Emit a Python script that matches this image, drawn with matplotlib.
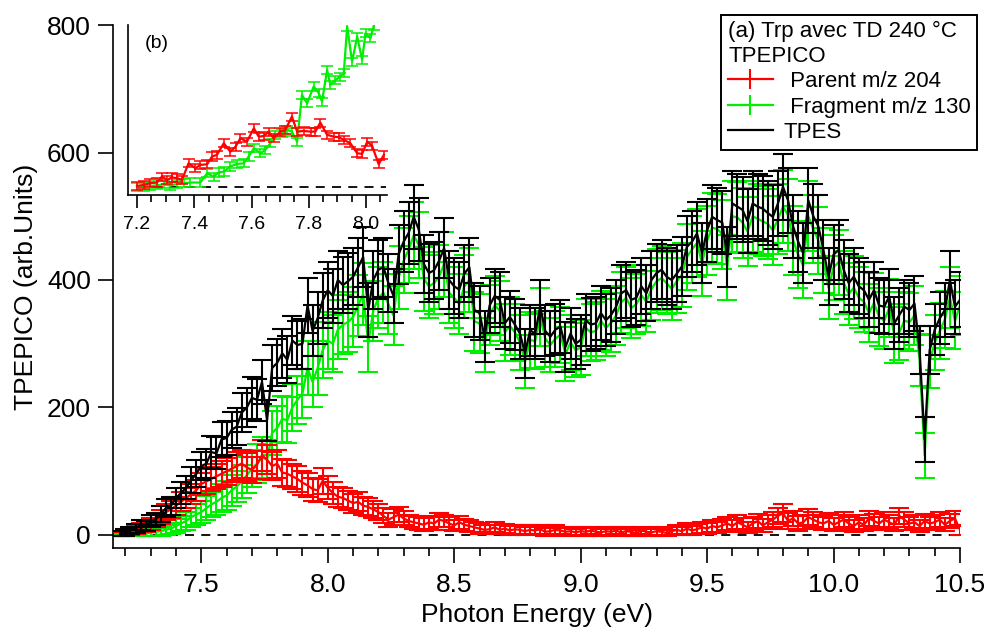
import numpy as np
import matplotlib
matplotlib.use("Agg")
import matplotlib.pyplot as plt
from matplotlib.lines import Line2D

plt.rcParams['font.family'] = ['Liberation Sans', 'DejaVu Sans']

# photon energy grid (eV), 0.02 eV steps
energy = np.round(np.arange(7.18, 10.505, 0.02), 2)

tpes = [2, 4, 7, 10, 16, 14, 22, 25, 33, 42,
        46, 58, 66, 74, 86, 96, 108, 112, 130, 128,
        150, 152, 165, 170, 192, 200, 215, 212, 240, 180,
        262, 270, 285, 275, 305, 298, 300, 360, 320, 340,
        368, 384, 375, 400, 392, 398, 405, 420, 436, 353,
        400, 416, 420, 395, 375, 440, 460, 474, 499, 479,
        425, 411, 415, 430, 450, 400, 390, 385, 410, 420,
        353, 348, 311, 360, 375, 369, 332, 342, 330, 316,
        285, 321, 316, 358, 320, 311, 322, 327, 295, 316,
        300, 306, 337, 330, 332, 348, 337, 345, 358, 379,
        384, 369, 372, 390, 379, 400, 411, 416, 405, 400,
        410, 421, 452, 460, 473, 442, 478, 499, 494, 490,
        436, 520, 515, 510, 492, 520, 515, 512, 505, 499,
        520, 546, 525, 484, 460, 442, 525, 500, 484, 447,
        405, 440, 447, 416, 395, 405, 390, 384, 369, 384,
        360, 358, 374, 332, 345, 358, 353, 363, 290, 150,
        290, 322, 340, 353, 400, 358, 369]
tpes_err = [4, 5, 6, 7, 8, 8, 10, 10, 12, 14,
            14, 16, 17, 18, 20, 21, 22, 23, 25, 25,
            27, 27, 28, 29, 31, 31, 33, 33, 35, 32,
            36, 37, 38, 37, 39, 38, 39, 43, 40, 41,
            43, 44, 43, 45, 44, 44, 45, 46, 47, 42,
            45, 46, 46, 45, 43, 47, 48, 49, 50, 49,
            46, 45, 45, 46, 47, 45, 44, 44, 45, 46,
            42, 42, 40, 43, 43, 43, 41, 41, 40, 40,
            38, 40, 40, 42, 40, 40, 40, 41, 39, 40,
            39, 39, 41, 41, 41, 42, 41, 42, 42, 44,
            44, 43, 43, 44, 44, 45, 45, 46, 45, 45,
            45, 46, 48, 48, 49, 47, 49, 50, 50, 50,
            47, 51, 51, 51, 50, 51, 51, 51, 50, 50,
            51, 52, 51, 49, 48, 47, 51, 50, 49, 47,
            45, 47, 47, 46, 45, 45, 44, 44, 43, 44,
            43, 42, 43, 41, 42, 42, 42, 43, 38, 35,
            38, 40, 41, 42, 45, 42, 43]

parent = [1, 3, 5, 8, 11, 13, 17, 22, 28, 36,
          40, 46, 52, 58, 64, 70, 80, 84, 88, 92,
          96, 100, 104, 108, 112, 106, 102, 110, 125, 118,
          108, 112, 98, 96, 92, 88, 82, 78, 72, 70,
          85, 74, 66, 60, 58, 54, 50, 52, 46, 44,
          40, 36, 30, 24, 28, 32, 26, 22, 20, 18,
          16, 20, 18, 24, 22, 18, 15, 20, 16, 14,
          12, 10, 8, 9, 12, 8, 10, 7, 9, 8,
          6, 8, 7, 9, 5, 6, 8, 7, 5, 6,
          4, 6, 5, 7, 5, 4, 6, 5, 7, 4,
          6, 5, 3, 7, 5, 4, 6, 5, 3, 6,
          8, 6, 10, 7, 9, 12, 10, 14, 12, 15,
          18, 14, 20, 16, 12, 18, 22, 15, 20, 24,
          30, 34, 22, 26, 18, 20, 28, 24, 20, 18,
          22, 16, 20, 24, 18, 14, 20, 16, 26, 22,
          18, 24, 20, 16, 30, 24, 18, 20, 14, 22,
          18, 20, 24, 16, 22, 26, 8]
parent_err = [3, 4, 5, 6, 7, 8, 9, 10, 11, 12,
              13, 14, 15, 16, 16, 17, 18, 19, 19, 20,
              20, 21, 21, 22, 22, 22, 21, 22, 24, 23,
              22, 22, 21, 21, 20, 20, 19, 19, 18, 18,
              20, 18, 17, 16, 16, 15, 15, 15, 14, 14,
              13, 13, 12, 11, 12, 12, 11, 10, 10, 10,
              10, 10, 10, 11, 10, 10, 9, 10, 9, 9,
              8, 8, 7, 7, 8, 7, 7, 7, 7, 7,
              6, 7, 6, 7, 6, 6, 7, 6, 6, 6,
              5, 6, 6, 6, 6, 5, 6, 6, 6, 5,
              6, 6, 5, 6, 6, 5, 6, 6, 5, 6,
              7, 6, 8, 7, 8, 9, 8, 9, 9, 10,
              10, 9, 11, 10, 9, 10, 11, 10, 11, 12,
              13, 14, 12, 12, 11, 11, 13, 12, 11, 10,
              12, 10, 11, 12, 10, 9, 11, 10, 12, 11,
              10, 12, 11, 10, 13, 12, 10, 11, 9, 11,
              10, 11, 12, 10, 11, 12, 8]

fragment = [0, 1, 1, 2, 3, 2, 4, 5, 6, 8,
            10, 14, 18, 22, 28, 32, 36, 42, 48, 52,
            58, 62, 70, 76, 84, 94, 104, 112, 122, 118,
            160, 168, 182, 180, 200, 212, 222, 262, 240, 262,
            290, 305, 300, 322, 330, 334, 342, 360, 378, 300,
            352, 372, 380, 362, 344, 404, 430, 448, 470, 455,
            402, 390, 395, 405, 425, 380, 372, 362, 390, 400,
            335, 332, 298, 345, 360, 352, 318, 328, 318, 302,
            272, 306, 304, 342, 308, 298, 308, 314, 284, 302,
            290, 294, 325, 318, 320, 336, 325, 333, 344, 365,
            372, 356, 362, 376, 366, 386, 398, 403, 395, 386,
            398, 408, 436, 448, 458, 426, 462, 482, 480, 472,
            420, 500, 498, 490, 476, 500, 496, 492, 488, 478,
            495, 515, 502, 462, 440, 422, 500, 480, 462, 430,
            388, 420, 428, 396, 378, 388, 372, 366, 348, 364,
            342, 336, 356, 314, 318, 336, 334, 344, 275, 125,
            272, 302, 320, 338, 372, 336, 360]
fragment_err = [2, 3, 3, 4, 5, 4, 6, 6, 7, 8,
                9, 11, 12, 14, 15, 16, 17, 19, 20, 21,
                22, 23, 24, 25, 26, 28, 29, 30, 32, 31,
                34, 35, 36, 36, 37, 38, 39, 42, 40, 42,
                44, 45, 45, 46, 46, 47, 47, 48, 49, 44,
                47, 48, 48, 47, 46, 50, 51, 52, 53, 52,
                50, 49, 49, 50, 51, 48, 48, 47, 49, 50,
                46, 46, 43, 47, 47, 47, 45, 45, 45, 43,
                41, 44, 43, 46, 44, 43, 44, 44, 42, 43,
                42, 43, 45, 45, 45, 46, 45, 46, 46, 48,
                48, 47, 47, 48, 48, 49, 50, 50, 49, 49,
                49, 50, 52, 53, 53, 51, 54, 55, 55, 54,
                51, 56, 56, 55, 54, 56, 55, 55, 55, 54,
                55, 57, 56, 54, 52, 51, 55, 54, 53, 51,
                49, 51, 51, 50, 48, 49, 48, 47, 46, 47,
                46, 45, 46, 44, 44, 45, 45, 46, 41, 35,
                41, 43, 44, 45, 48, 45, 47]

# inset (b): finer scan near onset, arbitrary units
parent_b_x = [7.200, 7.223, 7.247, 7.270, 7.287, 7.305, 7.322, 7.340, 7.357, 7.380,
              7.404, 7.421, 7.445, 7.462, 7.479, 7.503, 7.526, 7.544, 7.561, 7.584,
              7.608, 7.625, 7.643, 7.660, 7.677, 7.701, 7.718, 7.741, 7.759, 7.782,
              7.806, 7.823, 7.840, 7.864, 7.887, 7.905, 7.922, 7.945, 7.969, 7.986,
              8.004, 8.021, 8.044, 8.062]
parent_b = [0.004, 0.010, 0.021, 0.025, 0.062, 0.041, 0.056, 0.052, 0.041, 0.144,
            0.113, 0.134, 0.138, 0.186, 0.196, 0.268, 0.216, 0.247, 0.299, 0.278,
            0.361, 0.309, 0.313, 0.340, 0.299, 0.340, 0.351, 0.433, 0.340, 0.344,
            0.340, 0.340, 0.396, 0.320, 0.309, 0.305, 0.289, 0.268, 0.206, 0.202,
            0.278, 0.252, 0.138, 0.196]
fragment_b_x = [7.200, 7.223, 7.247, 7.270, 7.293, 7.316, 7.340, 7.363, 7.386, 7.421,
                7.445, 7.468, 7.485, 7.503, 7.526, 7.549, 7.573, 7.590, 7.608, 7.631,
                7.648, 7.666, 7.683, 7.707, 7.724, 7.741, 7.759, 7.776, 7.794, 7.817,
                7.835, 7.846, 7.864, 7.875, 7.893, 7.910, 7.922, 7.934, 7.951, 7.969,
                7.986, 7.998, 8.015, 8.027]
fragment_b = [0.000, 0.000, 0.004, 0.008, 0.014, 0.006, 0.016, 0.021, 0.025, 0.025,
              0.082, 0.062, 0.087, 0.093, 0.124, 0.140, 0.144, 0.186, 0.237, 0.206,
              0.227, 0.268, 0.320, 0.330, 0.351, 0.340, 0.278, 0.567, 0.515, 0.619,
              0.577, 0.526, 0.722, 0.629, 0.660, 0.680, 0.701, 0.990, 0.773, 0.928,
              0.784, 0.948, 0.918, 0.995]

RED = '#ff0000'
GREEN = '#00ee00'

fig = plt.figure(figsize=(9.89, 6.38), dpi=100)
ax = fig.add_axes([0.1143, 0.1411, 0.8564, 0.8197])

ax.plot([7.18, 10.5], [0, 0], color='black', lw=1.3, ls=(0, (5, 4)), zorder=1)

eb_kw = dict(lw=1.6, elinewidth=1.5, capsize=7, capthick=1.5)
ax.errorbar(energy, fragment, yerr=fragment_err, color=GREEN, zorder=2, **eb_kw)
ax.errorbar(energy, parent, yerr=parent_err, color=RED, zorder=3, **eb_kw)
ax.errorbar(energy, tpes, yerr=tpes_err, color='black', zorder=4, **eb_kw)

ax.set_xlim(7.151, 10.5)
ax.set_ylim(-20.4, 800)
ax.set_xticks([7.5, 8.0, 8.5, 9.0, 9.5, 10.0, 10.5])
ax.set_xticks(np.round(np.arange(7.2, 10.45, 0.1), 1), minor=True)
ax.set_yticks([0, 200, 400, 600, 800])
ax.spines['top'].set_visible(False)
ax.spines['right'].set_visible(False)
for s in ['left', 'bottom']:
    ax.spines[s].set_linewidth(1.2)
ax.tick_params(which='major', direction='out', length=11, width=1.2, labelsize=19, pad=7)
ax.tick_params(which='minor', direction='out', length=5.5, width=1.2)
ax.tick_params(axis='y', pad=5)
ax.set_xlabel('Photon Energy (eV)', fontsize=19, labelpad=4)
ax.set_ylabel('TPEPICO (arb.Units)', fontsize=19, labelpad=6)

# legend handles: line with a vertical tick, as in the original
handles = [Line2D([], [], color=RED, lw=1.6, marker='|', markersize=14, markeredgewidth=1.5),
           Line2D([], [], color=GREEN, lw=1.6, marker='|', markersize=14, markeredgewidth=1.5),
           Line2D([], [], color='black', lw=1.6)]
leg = ax.legend(handles, [' Parent m/z 204', ' Fragment m/z 130', 'TPES'],
                title='(a) Trp avec TD 240 °C\nTPEPICO', title_fontsize=16,
                fontsize=16, alignment='left', loc='upper right',
                bbox_to_anchor=(0.988, 0.977), bbox_transform=fig.transFigure,
                borderaxespad=0, fancybox=False, edgecolor='black',
                framealpha=1, handlelength=2.0, handletextpad=0.5,
                labelspacing=0.2, borderpad=0.3)
leg.get_frame().set_linewidth(1.4)
leg.set_zorder(10)

# inset (b)
axb = fig.add_axes([0.1294, 0.6944, 0.2619, 0.2665])
axb.plot([7.2, 8.07], [0, 0], color='black', lw=1.3, ls=(0, (5, 4)), zorder=1)
eb_b = dict(lw=1.6, elinewidth=1.1, capsize=4, capthick=1.1)
axb.errorbar(fragment_b_x, fragment_b, yerr=0.025, color=GREEN, zorder=2, **eb_b)
axb.errorbar(parent_b_x, parent_b, yerr=0.025, color=RED, zorder=3, **eb_b)
axb.set_xlim(7.1685, 8.073)
axb.set_ylim(-0.052, 1.0)
axb.set_xticks([7.2, 7.4, 7.6, 7.8, 8.0])
axb.set_xticklabels(['7.2', '7.4', '7.6', '7.8', '8.0'])
axb.set_xticks(np.round(np.arange(7.2, 8.07, 0.05), 2), minor=True)
axb.set_yticks([])
axb.spines['top'].set_visible(False)
axb.spines['right'].set_visible(False)
for s in ['left', 'bottom']:
    axb.spines[s].set_linewidth(1.2)
axb.tick_params(which='major', direction='out', length=9, width=1.2, labelsize=14, pad=6)
axb.tick_params(which='minor', direction='out', length=5, width=1.2)
axb.text(0.11, 0.89, '(b)', transform=axb.transAxes, fontsize=14, ha='center', va='center')

fig.savefig('out.png', dpi=100)
